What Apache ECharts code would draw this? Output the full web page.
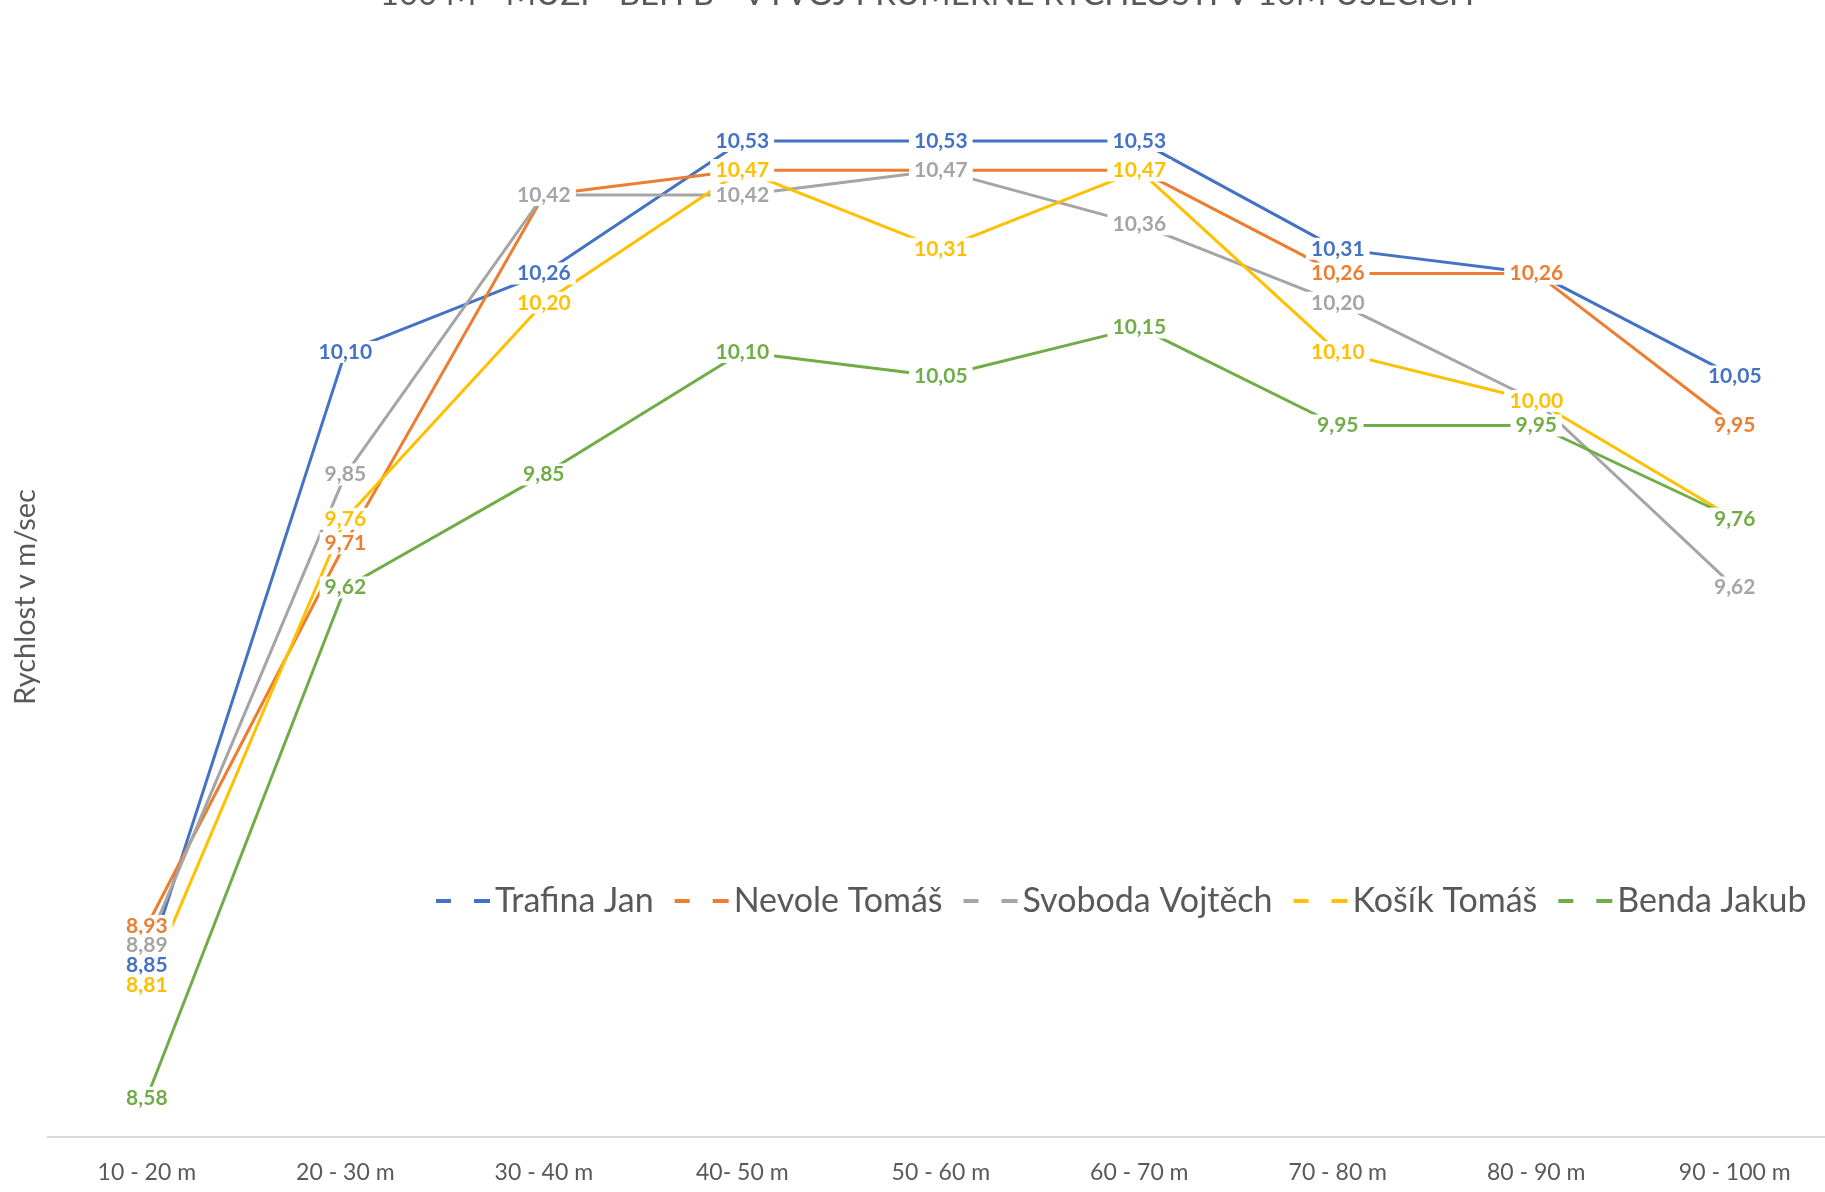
<!DOCTYPE html>
<html>
<head>
<meta charset="utf-8">
<script src="https://cdn.jsdelivr.net/npm/echarts@6/dist/echarts.min.js"></script>
<style>
html,body{margin:0;padding:0;background:#fff;overflow:hidden;width:1825px;height:1192px;}
#chart{width:1834px;height:1192px;}
</style>
</head>
<body>
<div id="chart"></div>
<script>
const titleText = '100 M - MUŽI - BĚH B - VÝVOJ PRŮMĚRNÉ RYCHLOSTI V 10M ÚSECÍCH';
const yAxisTitle = 'Rychlost v m/sec';
const categories = ['10 - 20 m','20 - 30 m','30 - 40 m','40- 50 m','50 - 60 m','60 - 70 m','70 - 80 m','80 - 90 m','90 - 100 m'];
const seriesNames = ['Trafina Jan','Nevole Tomáš','Svoboda Vojtěch','Košík Tomáš','Benda Jakub'];
const trafina = [8.85, 10.10, 10.26, 10.53, 10.53, 10.53, 10.31, 10.26, 10.05];
const nevole  = [8.93, 9.71, 10.42, 10.47, 10.47, 10.47, 10.26, 10.26, 9.95];
const svoboda = [8.89, 9.85, 10.42, 10.42, 10.47, 10.36, 10.20, 10.00, 9.62];
const kosik   = [8.81, 9.76, 10.20, 10.47, 10.31, 10.47, 10.10, 10.00, 9.76];
const benda   = [8.58, 9.62, 9.85, 10.10, 10.05, 10.15, 9.95, 9.95, 9.76];
const seriesValues = [trafina, nevole, svoboda, kosik, benda];
const colors = ['#4472C4','#ED7D31','#A5A5A5','#FFC000','#70AD47'];

const chart = echarts.init(document.getElementById('chart'), null, {renderer:'canvas'});
const series = seriesNames.map((name, i) => ({
  name: name,
  type: 'line',
  data: seriesValues[i],
  symbol: 'circle',
  symbolSize: 0,
  showSymbol: true,
  itemStyle: {color: colors[i]},
  lineStyle: {color: colors[i], width: 3},
  label: {
    show: true,
    position: 'inside',
    formatter: p => p.value.toFixed(2).replace('.', ','),
    color: colors[i],
    fontFamily: 'Lato',
    fontWeight: 'bold',
    fontSize: 21,
    lineHeight: 20,
    backgroundColor: '#ffffff',
    padding: [1, 5, 1, 5]
  },
  emphasis: {disabled: true},
  animation: false
}));

chart.setOption({
  animation: false,
  title: {
    text: titleText,
    left: 922,
    top: -27,
    textAlign: 'center',
    textStyle: {fontFamily: 'Lato', fontWeight: 'normal', fontSize: 33, color: '#595959'}
  },
  legend: {
    data: seriesNames,
    left: 431,
    top: 879,
    itemWidth: 54,
    itemHeight: 4,
    itemGap: 21,
    icon: 'path://M0,0H15V4H0Z M38,0H54V4H38Z',
    textStyle: {fontFamily: 'Lato', fontSize: 34, color: '#595959'}
  },
  grid: {left: 47.6, right: 0, top: 57.5, bottom: 55},
  xAxis: {
    type: 'category',
    data: categories,
    boundaryGap: true,
    axisLine: {show: true, lineStyle: {color: '#D9D9D9', width: 2}},
    axisTick: {show: false},
    axisLabel: {fontFamily: 'Lato', fontSize: 23, color: '#595959', margin: 24, interval: 0}
  },
  yAxis: {
    type: 'value',
    min: 8.5,
    max: 10.7,
    show: false,
    splitLine: {show: false}
  },
  graphic: [{
    type: 'text',
    x: 26,
    y: 597,
    rotation: Math.PI / 2,
    style: {
      text: yAxisTitle,
      fontFamily: 'Lato',
      fontSize: 29,
      fill: '#595959',
      textAlign: 'center',
      textVerticalAlign: 'middle'
    }
  }],
  series: series
});
</script>
</body>
</html>
